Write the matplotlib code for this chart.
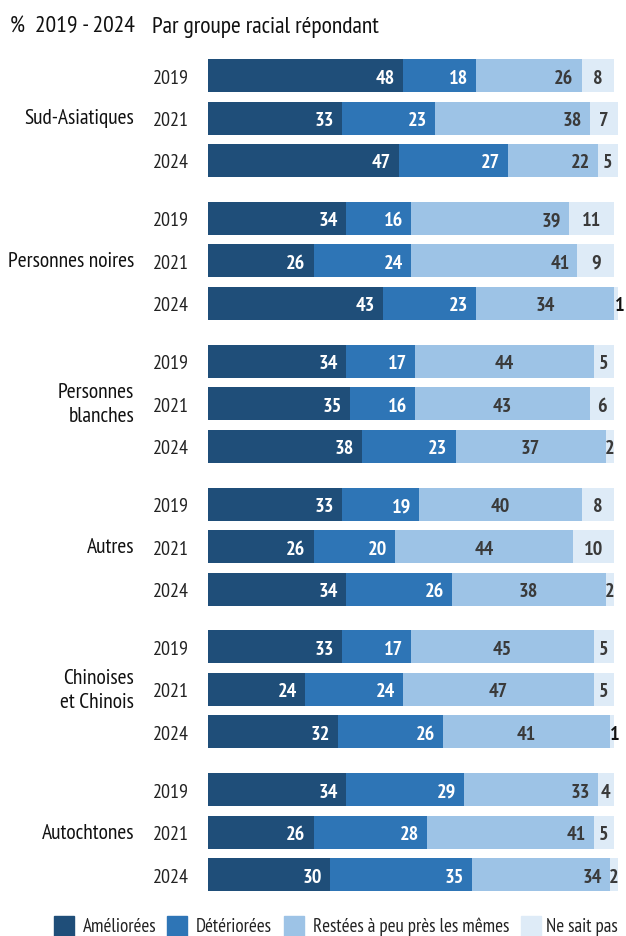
import matplotlib
matplotlib.use("Agg")
import matplotlib.pyplot as plt
import matplotlib.transforms as mtransforms
from matplotlib.patches import Rectangle
import numpy as np

plt.rcParams['font.family'] = ['PT Sans Narrow', 'DejaVu Sans']

# ---- data -------------------------------------------------------------
groups = ["Sud-Asiatiques", "Personnes noires", "Personnes\nblanches",
          "Autres", "Chinoises\net Chinois", "Autochtones"]
years = ["2019", "2021", "2024"]
series = ["Améliorées", "Détériorées", "Restées à peu près les mêmes", "Ne sait pas"]

ameliorees = [48, 33, 47, 34, 26, 43, 34, 35, 38, 33, 26, 34, 33, 24, 32, 34, 26, 30]
deteriorees = [18, 23, 27, 16, 24, 23, 17, 16, 23, 19, 20, 26, 17, 24, 26, 29, 28, 35]
memes = [26, 38, 22, 39, 41, 34, 44, 43, 37, 40, 44, 38, 45, 47, 41, 33, 41, 34]
ne_sait_pas = [8, 7, 5, 11, 9, 1, 5, 6, 2, 8, 10, 2, 5, 5, 1, 4, 5, 2]

# rows whose "mêmes" label sits in the middle of its segment (others hug the right edge)
memes_centered = [False, False, False, False, False, True,
                  True, True, True, True, True, True,
                  True, True, True, False, False, False]

colors = ["#1f4e79", "#2e75b6", "#9dc3e6", "#deebf7"]
label_colors = ["white", "white", "#3a3a3a", "#3a3a3a"]

# ---- layout -----------------------------------------------------------
W, H = 626, 937
fig = plt.figure(figsize=(W / 100, H / 100), dpi=100)

ax_left, ax_right = 208, 614
ax_top, ax_bottom = 40, 900
ax = fig.add_axes([ax_left / W, 1 - ax_bottom / H,
                   (ax_right - ax_left) / W, (ax_bottom - ax_top) / H])

row_px = 42.5          # distance between rows within a group
group_step = 142.86 / row_px
first_px = 76.5

ypos = []
for g in range(len(groups)):
    for r in range(len(years)):
        ypos.append(g * group_step + r)
ypos = np.array(ypos)

ax.set_xlim(0, 100)
ax.set_ylim((ax_bottom - first_px) / row_px, (ax_top - first_px) / row_px)
ax.axis("off")

data = np.array([ameliorees, deteriorees, memes, ne_sait_pas], dtype=float)
bar_h = 33 / row_px
px_per_unit = (ax_right - ax_left) / 100.0
pad_units = 8 / px_per_unit

left = np.zeros(len(ypos))
for k in range(4):
    vals = data[k]
    ax.barh(ypos, vals, left=left, height=bar_h, color=colors[k],
            edgecolor="none", label=series[k], clip_on=False)
    for i, (y, v, l0) in enumerate(zip(ypos, vals, left)):
        if k in (0, 1) or (k == 2 and not memes_centered[i]):
            x, ha = l0 + v - pad_units, "right"
        else:
            x, ha = l0 + v / 2, "center"
        col = label_colors[k]
        if k == 3 and v <= 1:
            x, col = l0 + v + 0.3, "#111111"
        ax.text(x, y, f"{int(v)}", ha=ha, va="center_baseline",
                fontsize=14.5, fontweight="bold", color=col, clip_on=False)
    left = left + vals

# year labels and group labels
ytrans = mtransforms.blended_transform_factory(fig.transFigure, ax.transData)
for i, y in enumerate(ypos):
    ax.text(189 / W, y, years[i % 3], transform=ytrans, ha="right",
            va="center_baseline", fontsize=14.5, color="#222222")
for g, name in enumerate(groups):
    ax.text(134 / W, g * group_step + 1, name, transform=ytrans, ha="right",
            va="center", fontsize=15.5, color="#111111", linespacing=1.3)

# header
fig.text(10 / W, 1 - 27 / H, "%  2019 - 2024", ha="left", va="center",
         fontsize=17, color="#111111")
fig.text(152 / W, 1 - 27 / H, "Par groupe racial répondant", ha="left",
         va="center", fontsize=17, color="#111111")

# legend
leg_y = 927
sq = 20
for k, (sx, tx) in enumerate(zip([54, 167, 284, 521], [83, 196, 313, 546])):
    fig.patches.append(Rectangle((sx / W, 1 - (leg_y + sq / 2) / H), sq / W, sq / H,
                                 transform=fig.transFigure, color=colors[k]))
    fig.text(tx / W, 1 - leg_y / H, series[k], ha="left", va="center",
             fontsize=13.7, color="#222222")

fig.savefig("out.png", dpi=100)
